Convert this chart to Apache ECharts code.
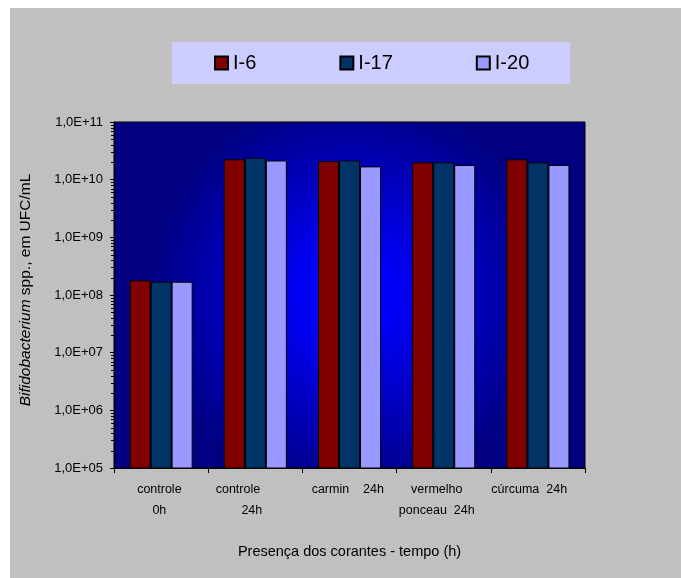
<!DOCTYPE html>
<html>
<head>
<meta charset="utf-8">
<script src="https://cdn.jsdelivr.net/npm/echarts@6/dist/echarts.min.js"></script>
<style>
html,body{margin:0;padding:0;background:#ffffff;}
#main{position:absolute;left:10px;top:8px;width:671px;height:570px;}
</style>
</head>
<body>
<div id="main"></div>
<script>
// Category labels (spaces mimic the original Excel label wrapping/alignment)
var categories = ['controle \n0h ', 'controle          \n24h  ', 'carmin    24h ', 'vermelho    \nponceau  24h    ', 'cúrcuma  24h     '];
var seriesNames = ['I-6', 'I-17', 'I-20'];
var valuesI6  = [1.8e8, 2.25e10, 2.1e10, 2.0e10, 2.25e10];
var valuesI17 = [1.7e8, 2.4e10, 2.15e10, 2.0e10, 2.0e10];
var valuesI20 = [1.7e8, 2.15e10, 1.7e10, 1.8e10, 1.8e10];
var seriesColors = ['#800000', '#003366', '#9999FF'];
var yMin = 1e5, yMax = 1e11;

var GRID = {left: 104, top: 114, right: 96, bottom: 110};
var FONT = 'Arial, "Liberation Sans", sans-serif';

var chart = echarts.init(document.getElementById('main'), null, {renderer: 'canvas'});

function expLabel(v) {
  var e = Math.round(Math.log10(v));
  var s = (e < 10 ? '0' : '') + e;
  return '1,0E+' + s;
}

var allValues = [valuesI6, valuesI17, valuesI20];
var series = seriesNames.map(function (n, i) {
  return {
    name: n,
    type: 'bar',
    data: allValues[i],
    barGap: '0%',
    barCategoryGap: '33%',
    itemStyle: {color: seriesColors[i], borderColor: '#000000', borderWidth: 1}
  };
});

var option = {
  backgroundColor: '#C0C0C0',
  animation: false,
  textStyle: {fontFamily: FONT, color: '#000'},
  legend: {
    data: seriesNames,
    left: 162,
    top: 34,
    backgroundColor: '#CCCCFF',
    padding: [11, 41, 11, 42],
    itemGap: 83,
    itemWidth: 13,
    itemHeight: 13,
    icon: 'rect',
    textStyle: {fontSize: 20, fontFamily: FONT, color: '#000'}
  },
  grid: {
    left: GRID.left, top: GRID.top, right: GRID.right, bottom: GRID.bottom,
    show: true,
    borderColor: '#000',
    borderWidth: 1,
    backgroundColor: {
      type: 'radial', x: 0.5, y: 0.5, r: 0.58,
      colorStops: [{offset: 0, color: '#0000FF'}, {offset: 0.22, color: '#0000F8'}, {offset: 1, color: '#000080'}]
    }
  },
  xAxis: {
    type: 'category',
    data: categories,
    name: 'Presença dos corantes - tempo (h)',
    nameLocation: 'middle',
    nameGap: 76,
    nameTextStyle: {fontSize: 14.5, fontFamily: FONT, color: '#000'},
    axisLine: {lineStyle: {color: '#000', width: 1}},
    axisTick: {show: true, alignWithLabel: false, length: 5, lineStyle: {color: '#000'}},
    axisLabel: {interval: 0, margin: 11, fontSize: 12.5, lineHeight: 21, color: '#000', fontFamily: FONT},
    splitLine: {show: false}
  },
  yAxis: {
    type: 'log',
    logBase: 10,
    min: yMin,
    max: yMax,
    splitNumber: 6,
    name: '{i|Bifidobacterium} spp., em UFC/mL',
    nameLocation: 'middle',
    nameGap: 80,
    nameTextStyle: {
      fontSize: 15.5, fontFamily: FONT, color: '#000', padding: [0, 0, 0, 10],
      rich: {i: {fontStyle: 'italic', fontSize: 15.5, fontFamily: FONT, color: '#000'}}
    },
    axisLine: {show: true, lineStyle: {color: '#000', width: 1}},
    axisTick: {show: true, length: 4, lineStyle: {color: '#000'}},
    axisLabel: {fontSize: 13, margin: 11, color: '#000', fontFamily: FONT, formatter: expLabel},
    splitLine: {show: false}
  },
  series: series
};
chart.setOption(option);

// Logarithmic minor ticks (2..9 within each decade), positioned through the axis scale
var minorLines = [];
for (var d = Math.log10(yMin); d < Math.log10(yMax); d++) {
  for (var k = 2; k <= 9; k++) {
    var v = k * Math.pow(10, d);
    var py = chart.convertToPixel({yAxisIndex: 0}, v);
    minorLines.push({
      type: 'line',
      shape: {x1: GRID.left - 3, y1: Math.round(py) + 0.5, x2: GRID.left, y2: Math.round(py) + 0.5},
      style: {stroke: '#000', lineWidth: 1},
      silent: true
    });
  }
}
chart.setOption({graphic: minorLines});
</script>
</body>
</html>
